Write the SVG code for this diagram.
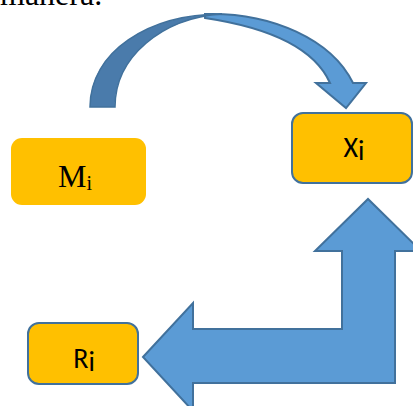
<svg xmlns="http://www.w3.org/2000/svg" width="413" height="406" viewBox="0 0 413 406">
<style>
.box{fill:#ffc000;stroke:#41719c;stroke-width:2}
.arrow{fill:#5b9bd5;stroke:#41719c;stroke-width:2;stroke-linejoin:miter}
.dark{fill:#4a7bab;stroke:#41719c;stroke-width:1.5}
.sans{font-family:Calibri,Carlito,"Liberation Sans",sans-serif;font-size:28px;fill:#000;text-anchor:middle}
.serif{font-family:"Liberation Serif","Times New Roman",serif;fill:#000}
</style>
<rect width="413" height="406" fill="#fff"/>
<text class="serif" x="0" y="5" font-size="32">manera.</text>
<g id="connectors">
<path class="arrow" d="M205,14 C272,12 332,40 353,83 L366,83 L346,108 L316,83 L330,83 C318,56 285,30 205,18 Z"/>
<path class="dark" d="M90,107 C90,52 148,14 222,14 C162,18 115,57 115,107 Z"/>
<path class="arrow" d="M143,357 L193,303 L193,329 L342,329 L342,251 L315,251 L368,199 L421,251 L395,251 L395,383 L193,383 L193,411 Z"/>
</g>
<g id="node-M">
<rect x="11" y="138" width="135" height="67" rx="11" fill="#ffc000"/>
<text class="serif" x="58" y="187" font-size="32">M<tspan font-size="20" dy="3">i</tspan></text>
</g>
<g id="node-X">
<rect class="box" x="292" y="113" width="120" height="70" rx="11"/>
<text class="sans" x="354" y="157">X<tspan dy="3">i</tspan></text>
</g>
<g id="node-R">
<rect class="box" x="28" y="323" width="110" height="61" rx="11"/>
<text class="sans" x="84" y="368">R<tspan dy="3">i</tspan></text>
</g>
</svg>
